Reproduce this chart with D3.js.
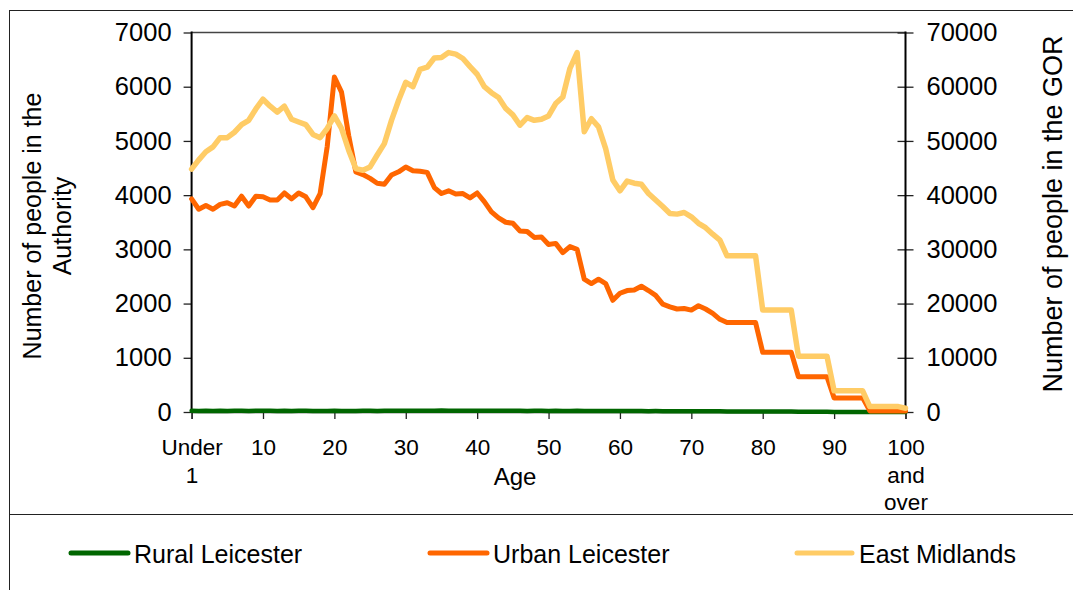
<!DOCTYPE html>
<html>
<head>
<meta charset="utf-8">
<script src="https://cdn.jsdelivr.net/npm/d3@7/dist/d3.min.js"></script>
<style>
  html, body { margin: 0; padding: 0; background: #fff; }
  svg { display: block; font-family: "Liberation Sans", Arial, sans-serif; }
</style>
</head>
<body>
<svg id="chart" width="1073" height="590"></svg>
<script>
// ---- Data ----
const ages = d3.range(0, 101);
const xTickValues = [0, 10, 20, 30, 40, 50, 60, 70, 80, 90, 100];
const xTickLabels = [["Under", "1"], ["10"], ["20"], ["30"], ["40"], ["50"], ["60"], ["70"], ["80"], ["90"], ["100", "and", "over"]];
const leftTicks = [0, 1000, 2000, 3000, 4000, 5000, 6000, 7000];
const rightTicks = [0, 10000, 20000, 30000, 40000, 50000, 60000, 70000];
const seriesNames = ["Rural Leicester", "Urban Leicester", "East Midlands"];

const rural = [
  22, 20, 21, 19, 22, 20, 21, 23, 20, 22, 24, 21, 20, 22, 19, 21, 23, 20, 18, 20,
  21, 19, 18, 20, 22, 21, 20, 22, 24, 23, 22, 24, 25, 23, 24, 26, 24, 23, 22, 24,
  23, 22, 25, 23, 22, 21, 23, 20, 21, 22, 20, 21, 19, 20, 21, 18, 19, 20, 17, 18,
  19, 18, 17, 18, 16, 17, 16, 15, 16, 15, 14, 15, 14, 13, 12, 11, 11, 11, 11, 11,
  8, 8, 8, 8, 8, 5, 5, 5, 5, 5, 2, 2, 2, 2, 2, 1, 1, 1, 1, 1, 1
];

const urban = [
  3930, 3740, 3810, 3740, 3830, 3860, 3800, 3980, 3800, 3980,
  3970, 3910, 3910, 4040, 3930, 4040, 3970, 3770, 4030, 4900,
  6180, 5900, 5100, 4430, 4380, 4310, 4220, 4200, 4370, 4430,
  4520, 4450, 4440, 4420, 4140, 4030, 4080, 4020, 4030, 3950,
  4040, 3880, 3690, 3580, 3500, 3480, 3340, 3330, 3220, 3230,
  3090, 3110, 2940, 3050, 3000, 2450, 2370, 2450, 2370, 2060,
  2190, 2240, 2250, 2320, 2240, 2150, 1990, 1940, 1900, 1910,
  1880, 1960, 1900, 1820, 1710, 1650, 1650, 1650, 1650, 1650,
  1100, 1100, 1100, 1100, 1100, 650, 650, 650, 650, 650,
  260, 260, 260, 260, 260, 20, 20, 20, 20, 20, 20
];

const eastMidlands = [
  44800, 46500, 48000, 48900, 50600, 50600, 51600, 53000, 53800, 55900,
  57700, 56400, 55300, 56400, 54000, 53500, 53000, 51200, 50600, 52300,
  54600, 52300, 48300, 44900, 44600, 45200, 47400, 49500, 53800, 57500,
  60800, 60000, 63200, 63600, 65300, 65400, 66300, 66000, 65200, 63700,
  62300, 60000, 58900, 58000, 56000, 54800, 52900, 54300, 53800, 54000,
  54600, 56900, 58100, 63400, 66300, 51700, 54100, 52600, 48600, 42800,
  40800, 42600, 42200, 42000, 40300, 39100, 37900, 36600, 36500, 36800,
  36000, 34800, 34000, 32800, 31700, 28800, 28800, 28800, 28800, 28800,
  18800, 18800, 18800, 18800, 18800, 10300, 10300, 10300, 10300, 10300,
  3900, 3900, 3900, 3900, 3900, 1000, 1000, 1000, 1000, 1000, 700
];

const colors = { rural: "#006600", urban: "#FF6600", east: "#FFCC66" };

// ---- Layout ----
const svg = d3.select("#chart");
const plot = { left: 191.6, right: 905.5, top: 32.5, bottom: 412 };

const x = d3.scaleLinear().domain([0, 100]).range([plot.left, plot.right]);
const yL = d3.scaleLinear().domain([0, 7000]).range([plot.bottom, plot.top]);
const yR = d3.scaleLinear().domain([0, 70000]).range([plot.bottom, plot.top]);

// outer frame
svg.append("line").attr("x1", 9.5).attr("x2", 9.5).attr("y1", 10).attr("y2", 590).attr("stroke", "#222").attr("stroke-width", 1);
svg.append("line").attr("x1", 9).attr("x2", 1073).attr("y1", 10.5).attr("y2", 10.5).attr("stroke", "#222").attr("stroke-width", 1);
svg.append("line").attr("x1", 9).attr("x2", 1073).attr("y1", 514.5).attr("y2", 514.5).attr("stroke", "#222").attr("stroke-width", 1);

// plot top border
svg.append("line").attr("x1", plot.left).attr("x2", plot.right).attr("y1", plot.top).attr("y2", plot.top)
  .attr("stroke", "#444").attr("stroke-width", 1.3);

// left axis
const gL = svg.append("g").attr("transform", `translate(${plot.left},0)`)
  .call(d3.axisLeft(yL).tickValues(leftTicks).tickSize(8).tickPadding(12).tickFormat(d3.format("d")));
gL.select(".domain").remove();
gL.selectAll(".tick line").attr("stroke", "#222").attr("stroke-width", 1.3);
gL.selectAll(".tick text").attr("font-size", 25.5).attr("fill", "#000")
  .attr("font-family", "Liberation Sans, Arial, sans-serif");
svg.append("line").attr("x1", plot.left).attr("x2", plot.left).attr("y1", plot.top - 1).attr("y2", plot.bottom + 1)
  .attr("stroke", "#000").attr("stroke-width", 2);

// right axis
const gR = svg.append("g").attr("transform", `translate(${plot.right},0)`)
  .call(d3.axisRight(yR).tickValues(rightTicks).tickSize(8).tickPadding(13).tickFormat(d3.format("d")));
gR.select(".domain").remove();
gR.selectAll(".tick line").attr("x1", -8).attr("x2", 8).attr("stroke", "#222").attr("stroke-width", 1.3);
gR.selectAll(".tick text").attr("font-size", 25.5).attr("fill", "#000")
  .attr("font-family", "Liberation Sans, Arial, sans-serif");
svg.append("line").attr("x1", plot.right).attr("x2", plot.right).attr("y1", plot.top - 1).attr("y2", plot.bottom + 1)
  .attr("stroke", "#000").attr("stroke-width", 2);

// x axis
const gX = svg.append("g").attr("transform", `translate(0,${plot.bottom})`)
  .call(d3.axisBottom(x).tickValues(xTickValues).tickSize(7).tickFormat(""));
gX.select(".domain").attr("stroke", "#222").attr("stroke-width", 1.3);
gX.selectAll(".tick line").attr("stroke", "#222").attr("stroke-width", 1.3);
gX.selectAll(".tick").each(function(d, i) {
  const t = d3.select(this).append("text")
    .attr("fill", "#000").attr("font-size", 22.5).attr("text-anchor", "middle")
    .attr("font-family", "Liberation Sans, Arial, sans-serif")
    .attr("y", 43);
  xTickLabels[i].forEach((s, k) => {
    t.append("tspan").attr("x", 0).attr("dy", k === 0 ? 0 : 27.5).text(s);
  });
});

// axis titles
svg.append("text").attr("x", 515).attr("y", 485).attr("text-anchor", "middle")
  .attr("font-size", 24).text("Age");

const lt = svg.append("text").attr("transform", "translate(41,226) rotate(-90)")
  .attr("text-anchor", "middle").attr("font-size", 25);
lt.append("tspan").attr("x", 0).attr("dy", 0).text("Number of people in the");
lt.append("tspan").attr("x", 0).attr("dy", 30).text("Authority");

svg.append("text").attr("transform", "translate(1062,214) rotate(-90)")
  .attr("text-anchor", "middle").attr("font-size", 27).text("Number of people in the GOR");

// lines
const lineL = d3.line().x((d, i) => x(ages[i])).y(d => yL(d));
const lineR = d3.line().x((d, i) => x(ages[i])).y(d => yR(d));

svg.append("path").datum(rural).attr("d", lineL).attr("fill", "none")
  .attr("stroke", colors.rural).attr("stroke-width", 4.5).attr("stroke-linejoin", "round").attr("stroke-linecap", "round");
svg.append("path").datum(urban).attr("d", lineL).attr("fill", "none")
  .attr("stroke", colors.urban).attr("stroke-width", 5).attr("stroke-linejoin", "round").attr("stroke-linecap", "round");
svg.append("path").datum(eastMidlands).attr("d", lineR).attr("fill", "none")
  .attr("stroke", colors.east).attr("stroke-width", 5.5).attr("stroke-linejoin", "round").attr("stroke-linecap", "round");

// legend
const legendItems = [
  { name: seriesNames[0], color: colors.rural, x1: 71, x2: 128, tx: 134 },
  { name: seriesNames[1], color: colors.urban, x1: 430, x2: 487, tx: 493 },
  { name: seriesNames[2], color: colors.east, x1: 797, x2: 852, tx: 859 }
];
legendItems.forEach(it => {
  svg.append("line").attr("x1", it.x1).attr("x2", it.x2).attr("y1", 553).attr("y2", 553)
    .attr("stroke", it.color).attr("stroke-width", 5).attr("stroke-linecap", "round");
  svg.append("text").attr("x", it.tx).attr("y", 563).attr("font-size", 25).attr("fill", "#000").text(it.name);
});
</script>
</body>
</html>
